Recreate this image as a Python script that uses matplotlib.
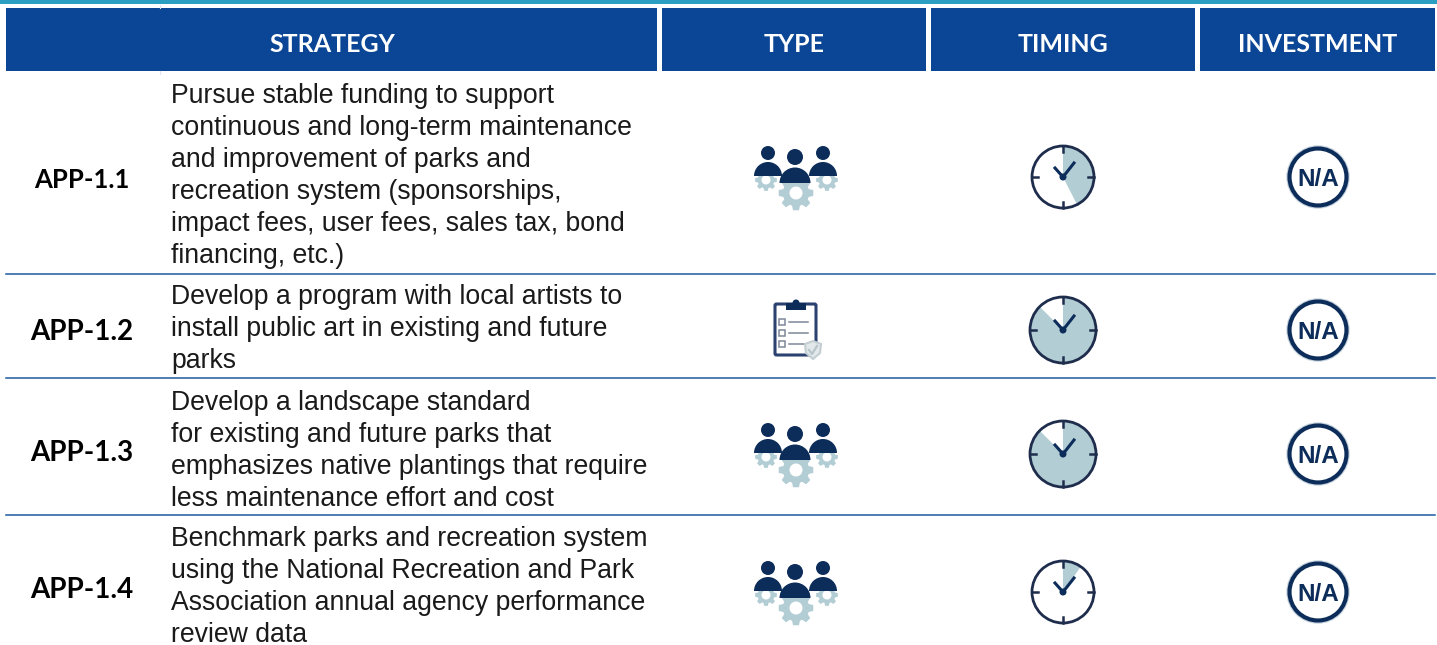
import numpy as np
import matplotlib
matplotlib.use("Agg")
import matplotlib.pyplot as plt
from matplotlib.patches import Circle, Wedge, Rectangle, FancyBboxPatch, Polygon

# 표 내용
headers = ["STRATEGY", "TYPE", "TIMING", "INVESTMENT"]
codes = ["APP-1.1", "APP-1.2", "APP-1.3", "APP-1.4"]
strategies = [
    ["Pursue stable funding to support", "continuous and long-term maintenance",
     "and improvement of parks and", "recreation system (sponsorships,",
     "impact fees, user fees, sales tax, bond", "financing, etc.)"],
    ["Develop a program with local artists to", "install public art in existing and future", "parks"],
    ["Develop a landscape standard", "for existing and future parks that",
     "emphasizes native plantings that require", "less maintenance effort and cost"],
    ["Benchmark parks and recreation system", "using the National Recreation and Park",
     "Association annual agency performance", "review data"],
]
types = ["people", "plan", "people", "people"]
timing_deg = [153, 315, 315, 35]   # 시계 음영 각도 (12시부터 시계방향)
investment = ["N/A", "N/A", "N/A", "N/A"]

NAVY = "#0c2c5a"
BLUE = "#0a4695"
TEAL = "#2a9fc2"
PALE = "#b3cdd5"

# 레이아웃 (픽셀)
header_x = [(6, 657), (662, 926), (931, 1195), (1200, 1435)]
header_text_x = [332, 794, 1063, 1318]
row_y = [177, 330, 454, 592]
code_y = [180, 332, 453, 590]
code_size = [18.5, 20, 20, 20]
text_top = [96, 297, 403, 539]
separators = [274, 378, 515]
type_x, timing_x, inv_x = 796, 1063, 1318
clock_r = [31, 33, 33, 31]

fig = plt.figure(figsize=(14.37, 6.45), dpi=100)
ax = fig.add_axes([0, 0, 1, 1])
ax.set_xlim(0, 1437)
ax.set_ylim(645, 0)
ax.axis("off")


def gear(cx, cy, r, hole, teeth=8):
    pts = []
    step = 2 * np.pi / teeth
    for i in range(teeth):
        a = i * step
        for da, rr in [(-0.30, 0.76), (-0.17, 1.0), (0.17, 1.0), (0.30, 0.76)]:
            t = a + da * step / 0.785
            pts.append((cx + r * rr * np.cos(t), cy + r * rr * np.sin(t)))
    ax.add_patch(Polygon(pts, closed=True, fc=PALE, ec="none", zorder=3))
    ax.add_patch(Circle((cx, cy), hole, fc="white", ec="none", zorder=4))


def person(cx, cy, head_dy, head_r, body_r):
    ax.add_patch(Circle((cx, cy + head_dy), head_r, fc=NAVY, ec="none", zorder=5))
    # y축이 뒤집혀 있어서 Wedge 180~360이 위쪽 반원
    ax.add_patch(Wedge((cx, cy), body_r, 180, 360, fc=NAVY, ec="none", zorder=5))


def people_icon(cx, cy):
    gear(cx - 30, cy + 3, 11, 4.5)
    gear(cx + 31, cy + 3, 11, 4.5)
    gear(cx, cy + 16, 17.5, 6.5)
    person(cx - 28, cy - 1, -23, 7, 14)
    person(cx + 27, cy - 1, -23, 7, 14)
    person(cx - 1, cy + 6, -26, 8, 15.5)


def plan_icon(cx, cy):
    ax.add_patch(FancyBboxPatch((cx - 21, cy - 26), 41, 51, boxstyle="round,pad=0,rounding_size=1.5",
                                fc="white", ec="#2b4270", lw=2.2, zorder=3))
    ax.add_patch(Rectangle((cx - 10, cy - 27), 20, 7, fc=NAVY, ec="none", zorder=4))
    ax.add_patch(Circle((cx, cy - 27), 3.5, fc=NAVY, ec="none", zorder=4))
    for dy in [-8, 3, 14]:
        ax.add_patch(Rectangle((cx - 17, cy + dy - 3), 6, 6, fc="white", ec="#7d8799", lw=1.1, zorder=4))
        ax.plot([cx - 7, cx + 12], [cy + dy, cy + dy], color="#7d8799", lw=1.1, zorder=4)
    sx, sy = cx + 17, cy + 20
    shield = [(sx, sy - 9), (sx + 8, sy - 6), (sx + 7, sy + 3), (sx, sy + 9), (sx - 7, sy + 3), (sx - 8, sy - 6)]
    ax.add_patch(Polygon(shield, closed=True, fc="#e3e8ea", ec="#c3ced2", lw=1.5, zorder=5))
    ax.plot([sx - 4, sx - 1, sx + 4], [sy, sy + 4, sy - 4], color="#b8c5ca", lw=1.6, zorder=6)


def clock(cx, cy, r, deg):
    ax.add_patch(Circle((cx, cy), r, fc="white", ec="none", zorder=2))
    # 위쪽이 -90도 (y축 반전), 시계방향으로 증가
    ax.add_patch(Wedge((cx, cy), r, -90, -90 + deg, fc=PALE, ec="none", zorder=3))
    ax.add_patch(Circle((cx, cy), r, fc="none", ec="#1f2d4d", lw=2.0, zorder=4))
    for a in np.arange(0, 360, 90):
        c, s = np.cos(np.radians(a)), np.sin(np.radians(a))
        ax.plot([cx + (r - 6) * c, cx + r * c], [cy + (r - 6) * s, cy + r * s],
                color="#1f2d4d", lw=1.8, zorder=5)
    ax.plot([cx - 8, cx, cx + 11], [cy - 9, cy, cy - 14], color=NAVY, lw=2.2, zorder=6)
    ax.add_patch(Circle((cx, cy), 3.5, fc=NAVY, ec="none", zorder=6))


def na_icon(cx, cy, label):
    ax.add_patch(Circle((cx, cy), 31, fc="white", ec="#c6d3de", lw=1, zorder=2))
    ax.add_patch(Circle((cx, cy), 28.5, fc="white", ec=NAVY, lw=3, zorder=3))
    ax.text(cx, cy, label, ha="center", va="center_baseline", family="Liberation Sans", weight="bold",
            fontsize=17.5, color=NAVY, zorder=4)


# 맨 위 청록색 줄
ax.add_patch(Rectangle((0, 0), 1437, 3.5, fc=TEAL, ec="none"))

# 헤더
for (x0, x1), tx, h in zip(header_x, header_text_x, headers):
    ax.add_patch(Rectangle((x0, 8), x1 - x0, 63, fc=BLUE, ec="none"))
    ax.text(tx, 45, h, ha="center", va="center", color="white", family="Lato", weight="bold", fontsize=18)

# 헤더 위아래 흐린 눈금
ax.plot([160, 160], [5, 8], color="#dbe4ef", lw=0.8)
ax.plot([160, 160], [71, 74], color="#dbe4ef", lw=0.8)

# 구분선
for y in separators:
    ax.plot([6, 1435], [y, y], color="#1c5aa0", lw=1.1)

# 행
for i, code in enumerate(codes):
    ax.text(82, code_y[i], code, ha="center", va="center", color="black",
            family="Lato", weight="bold", fontsize=code_size[i])
    for j, line in enumerate(strategies[i]):
        ax.text(171, text_top[i] + j * 32, line, ha="left", va="center", color="#1a1a1a",
                family="Liberation Sans", fontsize=19.15)
    if types[i] == "people":
        people_icon(type_x, row_y[i])
    else:
        plan_icon(type_x, row_y[i])
    clock(timing_x, row_y[i], clock_r[i], timing_deg[i])
    na_icon(inv_x, row_y[i], investment[i])

fig.savefig("out.png", dpi=100)
